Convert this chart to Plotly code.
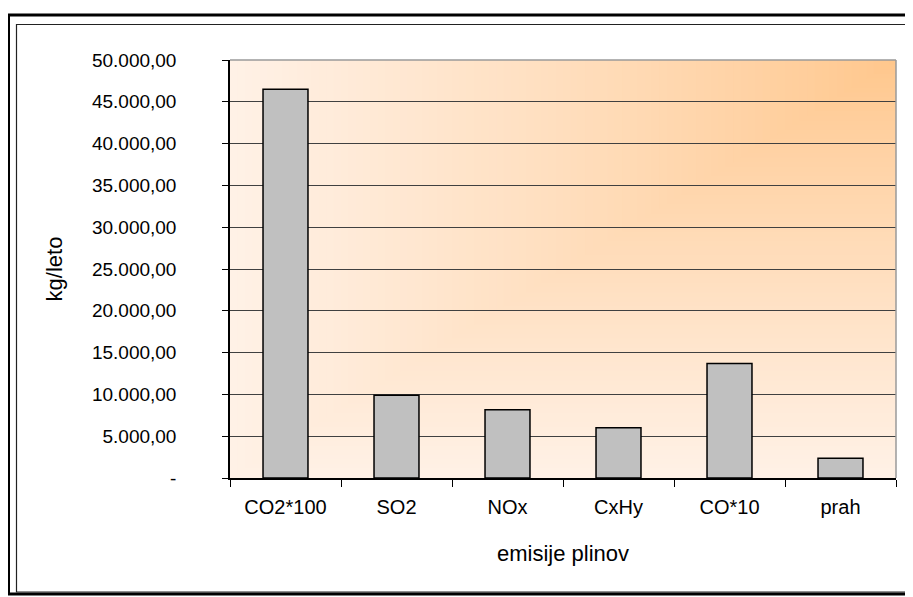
import plotly.graph_objects as go

# data
categories = ['CO2*100', 'SO2', 'NOx', 'CxHy', 'CO*10', 'prah']
emissions = [46500, 9900, 8150, 6000, 13700, 2350]

tick_vals = [0, 5000, 10000, 15000, 20000, 25000, 30000, 35000, 40000, 45000, 50000]
tick_text = ['-', '5.000,00', '10.000,00', '15.000,00', '20.000,00', '25.000,00',
             '30.000,00', '35.000,00', '40.000,00', '45.000,00', '50.000,00']

# the page puts the figure 8px in from the top left corner
OFF = 8
W, H = 905, 589
L, T = 230 - OFF, 60 - OFF
R = W - (896 - OFF)
B = H - (478 - OFF)
PW, PH = W - L - R, H - T - B


def px(x):
    return (x - OFF - L) / PW


def py(y):
    return (H - B - (y - OFF)) / PH


fig = go.Figure()
fig.add_trace(go.Bar(
    x=categories,
    y=emissions,
    marker=dict(color='#C0C0C0', line=dict(color='black', width=1.5)),
    hoverinfo='x+y',
))

# "from corner" gradient of the plot area (orange in the top right corner)
shapes = []
steps = 90
light = (255, 241, 230)
orange = (255, 198, 138)
for i in range(steps, 0, -1):
    t = i / steps
    c = tuple(round(orange[k] + (light[k] - orange[k]) * t ** 0.85) for k in range(3))
    shapes.append(dict(
        type='rect', xref='x domain', yref='y domain',
        x0=1 - t, x1=1, y0=1 - t, y1=1,
        fillcolor='rgb(%d,%d,%d)' % c, line=dict(width=0), layer='below'))

# grey top/right edge of the plot area
shapes.append(dict(type='line', xref='x domain', yref='y domain', x0=0, x1=1, y0=1, y1=1,
                   line=dict(color='#9a9a9a', width=1.5)))
shapes.append(dict(type='line', xref='x domain', yref='y domain', x0=1, x1=1, y0=0, y1=1,
                   line=dict(color='#9a9a9a', width=1.5)))

# chart frame: thick outer border and thin inner border
shapes.append(dict(type='rect', xref='paper', yref='paper',
                   x0=px(8.5), x1=px(930), y0=py(594), y1=py(15),
                   line=dict(color='black', width=3), fillcolor='rgba(0,0,0,0)'))
shapes.append(dict(type='rect', xref='paper', yref='paper',
                   x0=px(16.5), x1=px(911.5), y0=py(592), y1=py(24.5),
                   line=dict(color='#222222', width=1.2), fillcolor='rgba(0,0,0,0)'))

fig.update_layout(
    width=W, height=H,
    margin=dict(l=L, r=R, t=T, b=B),
    paper_bgcolor='white',
    plot_bgcolor='rgba(0,0,0,0)',
    font=dict(family='Liberation Sans, Arial, sans-serif', color='black', size=19),
    bargap=0.595,
    showlegend=False,
    shapes=shapes,
    xaxis=dict(
        title=dict(text='emisije plinov', font=dict(size=22), standoff=29),
        tickfont=dict(size=20),
        showline=True, linecolor='black', linewidth=1.5,
        ticks='outside', ticklen=7, tickcolor='black', tickson='boundaries',
        ticklabelstandoff=10,
        showgrid=False,
    ),
    yaxis=dict(
        title=dict(text='kg/leto', font=dict(size=22), standoff=23),
        range=[0, 50000],
        tickvals=tick_vals, ticktext=tick_text,
        tickfont=dict(size=19),
        showline=True, linecolor='black', linewidth=1.5,
        ticks='outside', ticklen=6, tickcolor='black',
        ticklabelstandoff=42,
        showgrid=True, gridcolor='#404040', gridwidth=1,
        zeroline=False,
    ),
)

fig.write_html('out.html')
